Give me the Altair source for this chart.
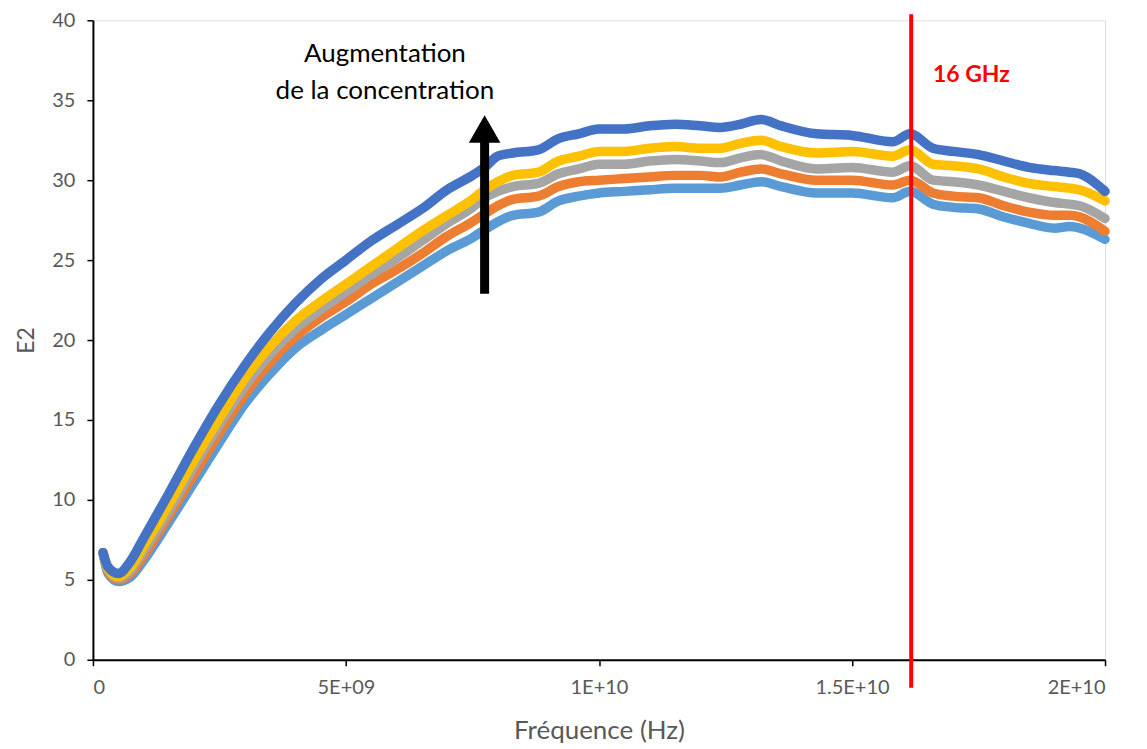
import altair as alt
import pandas as pd

# Frequencies in GHz
freq_ghz = [0.2, 0.3, 0.5, 0.75, 1.0, 1.5, 2.0, 2.5, 3.0, 3.5, 4.0, 4.5, 5.0, 5.5, 6.0, 6.5,
            7.0, 7.5, 7.74, 8.0, 8.3, 8.8, 9.2, 9.6, 10.0, 10.5, 11.0, 11.5, 12.0, 12.4, 12.8,
            13.2, 13.6, 14.3, 15.0, 15.8, 16.15, 16.6, 17.0, 17.5, 18.0, 18.5, 19.0, 19.3, 19.5, 20.0]

s_blue = [6.7, 5.8, 5.4, 6.2, 7.6, 10.4, 13.3, 16.0, 18.4, 20.5, 22.3, 23.8, 25.0, 26.2, 27.2, 28.2,
          29.4, 30.3, 30.8, 31.5, 31.7, 31.9, 32.6, 32.9, 33.2, 33.2, 33.4, 33.5, 33.4, 33.3, 33.5,
          33.8, 33.4, 32.9, 32.8, 32.4, 32.9, 32.0, 31.8, 31.6, 31.2, 30.8, 30.6, 30.5, 30.4, 29.3]
s_yellow = [6.7, 5.7, 5.2, 5.8, 7.1, 9.7, 12.5, 15.1, 17.6, 19.6, 21.2, 22.4, 23.5, 24.6, 25.7, 26.8,
            27.8, 28.8, 29.4, 29.9, 30.3, 30.5, 31.2, 31.5, 31.8, 31.8, 32.0, 32.1, 32.0, 32.0, 32.3,
            32.5, 32.1, 31.7, 31.8, 31.5, 31.9, 31.0, 30.9, 30.7, 30.2, 29.8, 29.6, 29.5, 29.4, 28.7]
s_gray = [6.7, 5.6, 5.1, 5.6, 6.8, 9.3, 12.1, 14.7, 17.1, 19.1, 20.7, 21.9, 23.0, 24.1, 25.1, 26.2,
          27.3, 28.3, 28.9, 29.3, 29.6, 29.8, 30.4, 30.7, 31.0, 31.0, 31.2, 31.3, 31.2, 31.1, 31.4,
          31.6, 31.2, 30.7, 30.8, 30.5, 30.9, 30.0, 29.9, 29.7, 29.3, 28.9, 28.6, 28.5, 28.4, 27.6]
s_orange = [6.7, 5.5, 5.0, 5.4, 6.5, 9.0, 11.6, 14.2, 16.6, 18.6, 20.2, 21.4, 22.4, 23.5, 24.4, 25.4,
            26.5, 27.4, 27.9, 28.4, 28.8, 29.0, 29.6, 29.9, 30.0, 30.1, 30.2, 30.3, 30.3, 30.2, 30.5,
            30.7, 30.4, 30.0, 30.0, 29.7, 30.0, 29.2, 29.0, 28.9, 28.4, 28.0, 27.8, 27.8, 27.7, 26.8]
s_lightblue = [6.7, 5.4, 4.9, 5.2, 6.2, 8.6, 11.1, 13.6, 16.0, 17.9, 19.5, 20.6, 21.6, 22.6, 23.6, 24.6,
               25.6, 26.4, 26.9, 27.4, 27.8, 28.0, 28.7, 29.0, 29.2, 29.3, 29.4, 29.5, 29.5, 29.5, 29.7,
               29.9, 29.6, 29.2, 29.2, 28.9, 29.3, 28.5, 28.3, 28.2, 27.7, 27.3, 27.0, 27.1, 27.0, 26.3]

series_names = ["c1", "c2", "c3", "c4", "c5"]
series_values = [s_lightblue, s_orange, s_gray, s_yellow, s_blue]
series_colors = ["#5B9BD5", "#ED7D31", "#A5A5A5", "#FFC000", "#4472C4"]

x_ticks = [0, 5e9, 1e10, 1.5e10, 2e10]
x_tick_labels = ["0", "5E+09", "1E+10", "1.5E+10", "2E+10"]
y_ticks = [0, 5, 10, 15, 20, 25, 30, 35, 40]

marker_freq = 1.617e10
marker_label = "16 GHz"
arrow_x = 7.74e9
arrow_y0 = 22.9
arrow_y1 = 32.6
arrow_head_y = 33.2
annot_lines = ["Augmentation", "de la concentration"]
annot_x = 5.77e9
annot_y = [37.9, 35.6]

FONT = "Lato"

label_expr = " : ".join(
    f"datum.value == {v} ? '{l}'" for v, l in zip(x_ticks, x_tick_labels)
) + " : ''"

x_scale = alt.Scale(domain=[0, 2e10], nice=False)
y_scale = alt.Scale(domain=[0, 40], nice=False)

x_axis = alt.Axis(values=x_ticks, labelExpr=label_expr, title="Fréquence (Hz)", grid=False,
                  labelFontSize=20, labelColor="#595959", labelFont=FONT, labelPadding=12,
                  titleFontSize=26, titleColor="#595959", titleFont=FONT, titleFontWeight="normal",
                  titlePadding=20, domainColor="black", domainWidth=2, tickColor="black",
                  tickWidth=1.5, tickSize=6)
y_axis = alt.Axis(values=y_ticks, title="E2", grid=False,
                  labelFontSize=20, labelColor="#595959", labelFont=FONT, labelPadding=12,
                  titleFontSize=23, titleColor="#595959", titleFont=FONT, titleFontWeight="normal",
                  titlePadding=13, domainColor="black", domainWidth=2, tickColor="black",
                  tickWidth=1.5, tickSize=6)

layers = []
for i, (name, vals, col) in enumerate(zip(series_names, series_values, series_colors)):
    df = pd.DataFrame({"f": [g * 1e9 for g in freq_ghz], "v": vals})
    if i == 0:
        enc = dict(x=alt.X("f:Q", scale=x_scale, axis=x_axis),
                   y=alt.Y("v:Q", scale=y_scale, axis=y_axis))
    else:
        enc = dict(x=alt.X("f:Q", scale=x_scale), y=alt.Y("v:Q", scale=y_scale))
    layers.append(
        alt.Chart(df).mark_line(color=col, strokeWidth=9.5, strokeCap="round",
                                strokeJoin="round", interpolate="monotone").encode(**enc)
    )

# red marker line (extends a bit beyond the plot)
red_df = pd.DataFrame({"f": [marker_freq]})
red = alt.Chart(red_df).mark_rule(color="#FF0000", strokeWidth=4).encode(
    x=alt.X("f:Q", scale=x_scale), y=alt.value(-6), y2=alt.value(668))

red_txt = alt.Chart(pd.DataFrame({"f": [1.66e10], "v": [36.6], "t": [marker_label]})).mark_text(
    color="#FF0000", fontWeight="bold", fontSize=23, font=FONT, align="left", baseline="middle"
).encode(x=alt.X("f:Q", scale=x_scale), y=alt.Y("v:Q", scale=y_scale), text="t:N")

# arrow
shaft = alt.Chart(pd.DataFrame({"f": [arrow_x], "a": [arrow_y0], "b": [arrow_y1]})).mark_rule(
    color="black", strokeWidth=9).encode(
    x=alt.X("f:Q", scale=x_scale), y=alt.Y("a:Q", scale=y_scale), y2="b:Q")
head = alt.Chart(pd.DataFrame({"f": [arrow_x], "v": [arrow_head_y]})).mark_point(
    shape="triangle-up", filled=True, color="black", size=1000, opacity=1).encode(
    x=alt.X("f:Q", scale=x_scale), y=alt.Y("v:Q", scale=y_scale))

annot = alt.Chart(pd.DataFrame({"f": [annot_x, annot_x], "v": annot_y, "t": annot_lines})).mark_text(
    color="black", fontSize=26, font=FONT, align="center", baseline="middle"
).encode(x=alt.X("f:Q", scale=x_scale), y=alt.Y("v:Q", scale=y_scale), text="t:N")

chart = alt.layer(*layers, red, red_txt, shaft, head, annot).properties(
    width=1013, height=640,
    autosize=alt.AutoSizeParams(type="none"),
    padding={"left": 85, "top": 12, "right": 34, "bottom": 86},
).configure_view(stroke=None).configure(background="white")

chart.save("out.html", embed_options={"renderer": "svg", "actions": False})
